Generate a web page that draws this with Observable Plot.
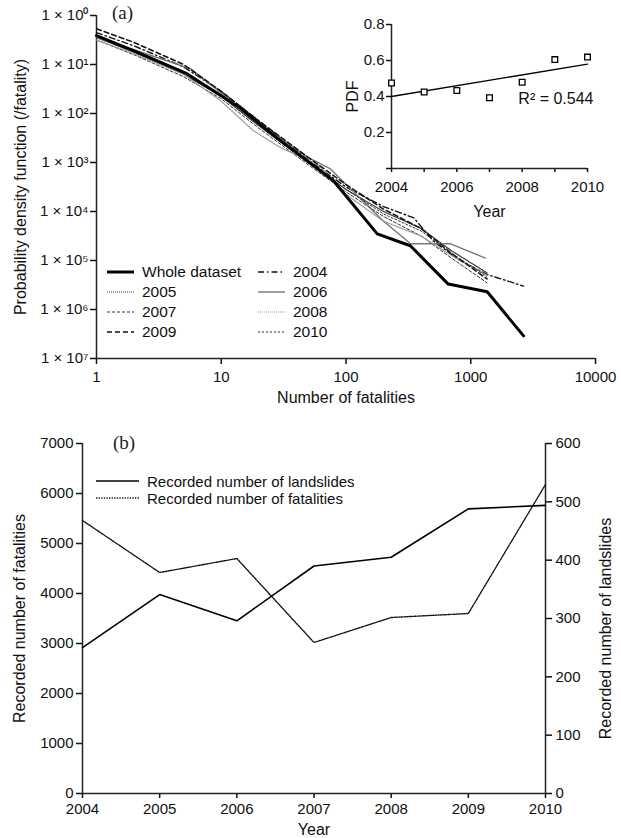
<!DOCTYPE html>
<html><head><meta charset="utf-8">
<script src="https://cdn.jsdelivr.net/npm/d3@7"></script>
<script src="https://cdn.jsdelivr.net/npm/@observablehq/plot@0.6"></script>
<style>
body{margin:0;background:#fff;font-family:"Liberation Sans",Arial,sans-serif;}
#wrap{position:relative;width:621px;height:838px;overflow:hidden;background:#fff;}
.lg{position:absolute;font-size:15.5px;color:#111;white-space:nowrap;display:flex;align-items:center;height:20px;}
.lg svg{display:block;margin-right:8px;}
.tag{position:absolute;font-family:"Liberation Serif","Times New Roman",serif;font-size:19px;color:#222;}
</style></head><body><div id="wrap"></div>
<script>
// ---------- Panel (a): PDF vs number of fatalities ----------
const nWhole = [1, 2, 5.3, 14, 30, 79, 178, 328, 660, 1355, 2650];
const pWhole = [0.39, 0.19, 0.065, 0.0132, 0.00275, 4.3e-4, 3.5e-5, 2.0e-5, 3.3e-6, 2.3e-6, 2.9e-7];
const n2004 = [1, 2, 5, 10, 20, 50, 100, 200, 350, 500, 820, 1350, 2650];
const p2004 = [0.447, 0.240, 0.0891, 0.0282, 0.00708, 0.00112, 3.16e-4, 1.26e-4, 7.4e-5, 2.5e-5, 1.0e-5, 5.2e-6, 3.0e-6];
const n2005 = [1, 2, 5, 10, 20, 50, 100, 200, 400, 700, 1350];
const p2005 = [0.355, 0.178, 0.0631, 0.0224, 0.00562, 0.001, 2.82e-4, 1.0e-4, 4.5e-5, 1.58e-5, 5.6e-6];
const n2006 = [1, 2, 5.7, 11, 20, 50, 75, 200, 330, 690, 1310];
const p2006 = [0.355, 0.200, 0.0813, 0.0214, 0.00631, 0.00126, 7.4e-4, 6.3e-5, 2.19e-5, 2.19e-5, 1.12e-5];
const n2007 = [1, 2, 5, 10, 20, 50, 100, 200, 400, 700, 1350];
const p2007 = [0.316, 0.158, 0.0562, 0.0200, 0.00501, 8.91e-4, 2.51e-4, 7.9e-5, 3.16e-5, 1.12e-5, 3.5e-6];
const n2008 = [1, 2, 5, 10, 18, 30, 60, 100, 200, 400, 700, 1350];
const p2008 = [0.316, 0.166, 0.0631, 0.0178, 0.0045, 0.0020, 8.9e-4, 2.24e-4, 6.3e-5, 3.16e-5, 1.26e-5, 5.0e-6];
const n2009 = [1, 2, 5, 10, 20, 50, 100, 200, 400, 700, 1350];
const p2009 = [0.537, 0.282, 0.1, 0.0282, 0.00708, 0.00126, 3.55e-4, 1.12e-4, 4.5e-5, 1.41e-5, 4.2e-6];
const n2010 = [1, 2, 5, 10, 20, 50, 100, 200, 400, 700, 1350];
const p2010 = [0.380, 0.191, 0.0708, 0.0224, 0.00562, 0.001, 2.82e-4, 8.9e-5, 4.0e-5, 1.41e-5, 4.7e-6];
const fatTicks = [1, 10, 100, 1000, 10000];
const pdfTicks = [1, 1e-1, 1e-2, 1e-3, 1e-4, 1e-5, 1e-6, 1e-7];

// ---------- Inset: PDF exponent by year ----------
const insetYears = [2004, 2005, 2006, 2007, 2008, 2009, 2010];
const insetPdf = [0.475, 0.425, 0.433, 0.393, 0.479, 0.605, 0.619];
const insetYTicks = [0, 0.2, 0.4, 0.6, 0.8];

// ---------- Panel (b): yearly totals ----------
const years = [2004, 2005, 2006, 2007, 2008, 2009, 2010];
const landslides = [250, 341, 296, 390, 405, 488, 494];
const fatalities = [5460, 4420, 4700, 3020, 3520, 3600, 6180];
const fatalityTicks = [0, 1000, 2000, 3000, 4000, 5000, 6000, 7000];
const landslideTicks = [0, 100, 200, 300, 400, 500, 600];

// ---------- styles ----------
const FONT = '"Liberation Sans", Arial, sans-serif';
const styles = {
  "Whole dataset": {stroke: "#000", strokeWidth: 3, dash: null},
  "2004": {stroke: "#111", strokeWidth: 1.4, dash: "6,3,1.5,3"},
  "2005": {stroke: "#333", strokeWidth: 1.2, dash: "1,1"},
  "2006": {stroke: "#777", strokeWidth: 1.4, dash: null},
  "2007": {stroke: "#333", strokeWidth: 1, dash: "3,2"},
  "2008": {stroke: "#9a9a9a", strokeWidth: 1.2, dash: "1,1"},
  "2009": {stroke: "#111", strokeWidth: 1.5, dash: "5,3"},
  "2010": {stroke: "#333", strokeWidth: 1, dash: "2,2"}
};
const seriesList = [
  {name: "2004", n: n2004, p: p2004},
  {name: "2005", n: n2005, p: p2005},
  {name: "2006", n: n2006, p: p2006},
  {name: "2007", n: n2007, p: p2007},
  {name: "2008", n: n2008, p: p2008},
  {name: "2009", n: n2009, p: p2009},
  {name: "2010", n: n2010, p: p2010},
  {name: "Whole dataset", n: nWhole, p: pWhole}
];
const sup = {"0":"⁰","1":"¹","2":"²","3":"³","4":"⁴","5":"⁵","6":"⁶","7":"⁷","8":"⁸","9":"⁹"};
const supNum = k => String(k).split("").map(c => sup[c]).join("");

const wrap = document.getElementById("wrap");

// ----- Panel a -----
const lineMarks = seriesList.map(s => {
  const st = styles[s.name];
  const rows = s.n.map((n, i) => ({n, p: s.p[i]}));
  return Plot.line(rows, {x: "n", y: "p", stroke: st.stroke, strokeWidth: st.strokeWidth,
    strokeDasharray: st.dash || undefined, strokeLinejoin: "round"});
});
const panelA = Plot.plot({
  width: 621, height: 410,
  marginLeft: 96, marginRight: 26, marginTop: 15, marginBottom: 52,
  style: {fontFamily: FONT, fontSize: "15px", color: "#111", background: "transparent"},
  x: {type: "log", domain: [1, 10000]},
  y: {type: "log", domain: [1e-7, 1]},
  marks: [
    Plot.axisX({ticks: fatTicks, tickFormat: d => String(d), tickSize: 6, tickPadding: 7, label: null, strokeWidth: 1.5}),
    Plot.axisY({ticks: pdfTicks, tickFormat: d => "1 × 10" + supNum(Math.round(-Math.log10(d))), tickSize: 6, tickPadding: 2, label: null, strokeWidth: 1.5}),
    Plot.ruleX([1], {stroke: "#222", strokeWidth: 1.5}),
    Plot.ruleY([1e-7], {stroke: "#222", strokeWidth: 1.5}),
    ...lineMarks,
    Plot.text(["Probability density function (/fatality)"], {text: d => d, frameAnchor: "left", textAnchor: "middle", lineAnchor: "middle", dx: -76, rotate: -90, fontSize: 16}),
    Plot.text(["Number of fatalities"], {text: d => d, frameAnchor: "bottom", lineAnchor: "middle", dy: 39, fontSize: 16})
  ]
});
panelA.style.position = "absolute"; panelA.style.left = "0px"; panelA.style.top = "0px";
wrap.appendChild(panelA);

// ----- Inset -----
const insetRows = insetYears.map((y, i) => ({year: y, pdf: insetPdf[i]}));
const inset = Plot.plot({
  width: 281, height: 210,
  marginLeft: 51, marginRight: 34, marginTop: 14, marginBottom: 52,
  style: {fontFamily: FONT, fontSize: "15px", color: "#111", background: "transparent"},
  x: {domain: [2004, 2010]},
  y: {domain: [0, 0.8]},
  marks: [
    Plot.axisX({ticks: insetYears, tickFormat: d => d % 2 === 0 ? String(d) : "", tickSize: 4, tickPadding: 9, label: null, strokeWidth: 1.5}),
    Plot.axisY({ticks: insetYTicks, tickFormat: d => d === 0 ? "" : d.toFixed(1), tickSize: 5, tickPadding: 2, label: null, strokeWidth: 1.5}),
    Plot.ruleX([2004], {stroke: "#222", strokeWidth: 1.5}),
    Plot.ruleY([0], {stroke: "#222", strokeWidth: 1.5}),
    Plot.linearRegressionY(insetRows, {x: "year", y: "pdf", ci: 0, stroke: "#000", strokeWidth: 1.3}),
    Plot.dot(insetRows, {x: "year", y: "pdf", symbol: "square", r: 3.2, fill: "white", stroke: "#000", strokeWidth: 1.3}),
    Plot.text(["R² = 0.544"], {text: d => d, frameAnchor: "top-right", textAnchor: "end", lineAnchor: "middle", dx: 6, dy: 74, fontSize: 16}),
    Plot.text(["PDF"], {text: d => d, frameAnchor: "left", textAnchor: "middle", lineAnchor: "middle", dx: -39, rotate: -90, fontSize: 16}),
    Plot.text(["Year"], {text: d => d, frameAnchor: "bottom", lineAnchor: "middle", dy: 43, fontSize: 16})
  ]
});
inset.style.position = "absolute"; inset.style.left = "340px"; inset.style.top = "10px";
wrap.appendChild(inset);

// ----- Panel b -----
const ratio = 7000 / 600;
const bRows = years.map((y, i) => ({year: y, landslides: landslides[i], fatalities: fatalities[i]}));
const panelB = Plot.plot({
  width: 621, height: 428,
  marginLeft: 82, marginRight: 76, marginTop: 33, marginBottom: 45,
  style: {fontFamily: FONT, fontSize: "15px", color: "#111", background: "transparent"},
  x: {domain: [2004, 2010]},
  y: {domain: [0, 7000]},
  marks: [
    Plot.axisX({ticks: years, tickFormat: d => String(d), tickSize: 5, tickPadding: 5, label: null, strokeWidth: 1.5}),
    Plot.axisY({ticks: fatalityTicks, tickFormat: d => String(d), tickSize: 6, tickPadding: 3, label: null, strokeWidth: 1.5}),
    Plot.axisY({anchor: "right", ticks: landslideTicks.map(v => v * ratio), tickFormat: d => String(Math.round(d / ratio)), tickSize: 6, tickPadding: 4, label: null, strokeWidth: 1.5}),
    Plot.ruleX([2004, 2010], {stroke: "#222", strokeWidth: 1.5}),
    Plot.ruleY([0], {stroke: "#222", strokeWidth: 1.5}),
    Plot.line(bRows, {x: "year", y: "fatalities", stroke: "#111", strokeWidth: 1.4, strokeDasharray: "1.3,1.3"}),
    Plot.line(bRows, {x: "year", y: d => d.landslides * ratio, stroke: "#000", strokeWidth: 1.6}),
    Plot.text(["Recorded number of fatalities"], {text: d => d, frameAnchor: "left", textAnchor: "middle", lineAnchor: "middle", dx: -63, rotate: -90, fontSize: 16}),
    Plot.text(["Recorded number of landslides"], {text: d => d, frameAnchor: "right", textAnchor: "middle", lineAnchor: "middle", dx: 60, dy: 10, rotate: -90, fontSize: 16}),
    Plot.text(["Year"], {text: d => d, frameAnchor: "bottom", lineAnchor: "middle", dy: 36, fontSize: 16})
  ]
});
panelB.style.position = "absolute"; panelB.style.left = "0px"; panelB.style.top = "410px";
wrap.appendChild(panelB);

// ----- Legends & panel tags -----
function sample(st, len) {
  const dash = st.dash ? ` stroke-dasharray="${st.dash}"` : "";
  return `<svg width="${len}" height="10"><line x1="0" y1="5" x2="${len}" y2="5" stroke="${st.stroke}" stroke-width="${st.strokeWidth}"${dash}/></svg>`;
}
const legendA = [["Whole dataset", 107, 262], ["2004", 258, 262], ["2005", 107, 282], ["2006", 258, 282],
                 ["2007", 107, 302], ["2008", 258, 302], ["2009", 107, 322], ["2010", 258, 322]];
legendA.forEach(([name, x, y]) => {
  const d = document.createElement("div");
  d.className = "lg"; d.style.left = x + "px"; d.style.top = y + "px";
  d.innerHTML = sample(styles[name], 27) + `<span>${name}</span>`;
  wrap.appendChild(d);
});
const legendB = [
  ["Recorded number of landslides", {stroke: "#000", strokeWidth: 1.6, dash: null}, 471],
  ["Recorded number of fatalities", {stroke: "#111", strokeWidth: 1.4, dash: "1.3,1.3"}, 488]
];
legendB.forEach(([name, st, y]) => {
  const d = document.createElement("div");
  d.className = "lg"; d.style.left = "96px"; d.style.top = y + "px"; d.style.fontSize = "15px";
  d.innerHTML = sample(st, 43) + `<span>${name}</span>`;
  wrap.appendChild(d);
});
[["(a)", 112, 2], ["(b)", 113, 432]].forEach(([t, x, y]) => {
  const d = document.createElement("div");
  d.className = "tag"; d.style.left = x + "px"; d.style.top = y + "px"; d.textContent = t;
  wrap.appendChild(d);
});
</script></body></html>
